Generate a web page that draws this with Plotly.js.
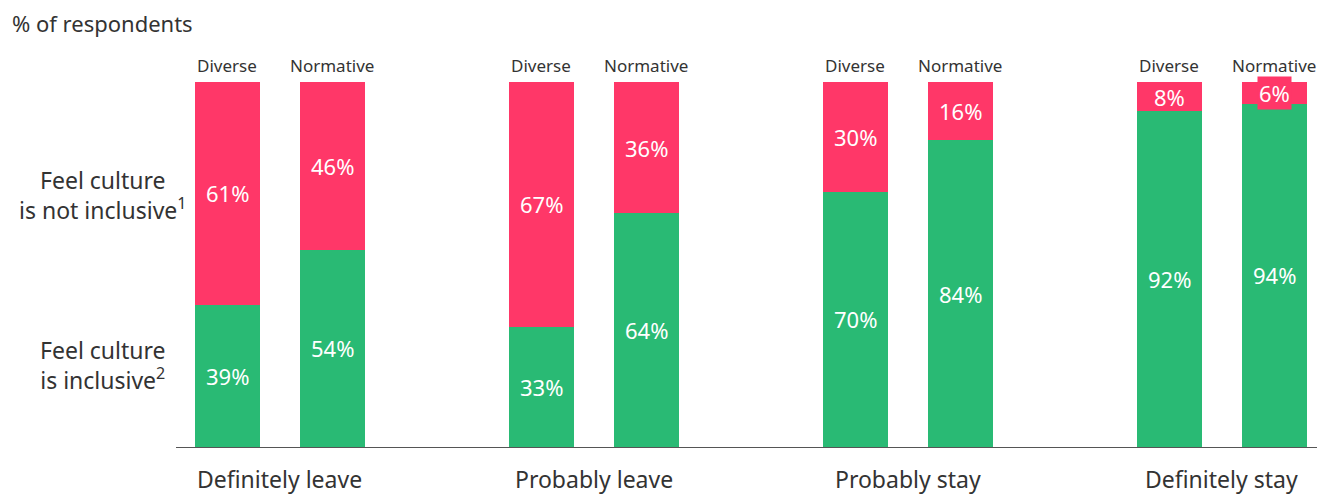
<!DOCTYPE html>
<html>
<head>
<meta charset="utf-8">
<script src="https://cdn.plot.ly/plotly-3.0.1.min.js"></script>
<style>html,body{margin:0;padding:0;background:#fff;}#chart{width:1317px;height:494px;}</style>
</head>
<body>
<div id="chart"></div>
<script>
var categories = ['Definitely leave', 'Probably leave', 'Probably stay', 'Definitely stay'];
var groups = ['Diverse', 'Normative'];
var inclusiveDiverse = [39, 33, 70, 92];
var inclusiveNormative = [54, 64, 84, 94];
var notInclusiveDiverse = [61, 67, 30, 8];
var notInclusiveNormative = [46, 36, 16, 6];
var seriesNames = ['Feel culture<br>is inclusive<sup>2</sup>', 'Feel culture<br>is not inclusive<sup>1</sup>'];

var GREEN = '#29BA74', RED = '#FF3768', TXT = '#333333';
var FONT = 'Noto Sans, Open Sans, sans-serif';

var xs = [], inc = [], notInc = [], grpLbl = [];
categories.forEach(function (c, i) {
  xs.push(i * 3, i * 3 + 1);
  inc.push(inclusiveDiverse[i], inclusiveNormative[i]);
  notInc.push(notInclusiveDiverse[i], notInclusiveNormative[i]);
  grpLbl.push(groups[0], groups[1]);
});

var W = 0.62;
var traces = [
  {type: 'bar', x: xs, y: inc, width: W, marker: {color: GREEN, line: {width: 0}}, hoverinfo: 'none'},
  {type: 'bar', x: xs, y: notInc, width: W, marker: {color: RED, line: {width: 0}}, hoverinfo: 'none'}
];

var ann = [];
function A(o) { o.showarrow = false; if (!o.xanchor) o.xanchor = 'center'; o.yanchor = 'middle'; ann.push(o); }
xs.forEach(function (x, k) {
  A({x: x, y: inc[k] / 2, xref: 'x', yref: 'y', text: inc[k] + '%',
    font: {family: FONT, size: 22, color: '#ffffff'}});
  var o = {x: x, y: inc[k] + notInc[k] / 2, xref: 'x', yref: 'y', text: notInc[k] + '%',
    font: {family: FONT, size: 22, color: '#ffffff'}};
  if (notInc[k] < 7) { o.bgcolor = RED; o.borderpad = 1; }
  A(o);
  A({x: x, y: 1.044, xref: 'x', yref: 'paper', text: grpLbl[k],
    font: {family: FONT, size: 17, color: TXT}});
});
categories.forEach(function (c, i) {
  A({x: i * 3 + 0.5, y: -0.088, xref: 'x', yref: 'paper', text: c,
    font: {family: FONT, size: 23, color: TXT}});
});
A({x: -0.064, y: 0.69, xref: 'paper', yref: 'paper', text: seriesNames[1],
  align: 'center', font: {family: FONT, size: 23, color: TXT}});
A({x: -0.064, y: 0.225, xref: 'paper', yref: 'paper', text: seriesNames[0],
  align: 'center', font: {family: FONT, size: 23, color: TXT}});
A({x: -0.1455, y: 1.162, xref: 'paper', yref: 'paper', xanchor: 'left', text: '% of respondents',
  font: {family: FONT, size: 22, color: TXT}});

var layout = {
  width: 1317, height: 494,
  margin: {l: 176, r: 0, t: 82, b: 47},
  paper_bgcolor: '#ffffff', plot_bgcolor: '#ffffff',
  barmode: 'stack', showlegend: false,
  xaxis: {range: [-0.492, 10.41], showgrid: false, zeroline: false, showticklabels: false,
    showline: true, linecolor: '#555555', linewidth: 1.2, ticks: ''},
  yaxis: {range: [0, 100], showgrid: false, zeroline: false, showticklabels: false, showline: false, ticks: ''},
  annotations: ann
};
Plotly.newPlot('chart', traces, layout, {staticPlot: true});
</script>
</body>
</html>
